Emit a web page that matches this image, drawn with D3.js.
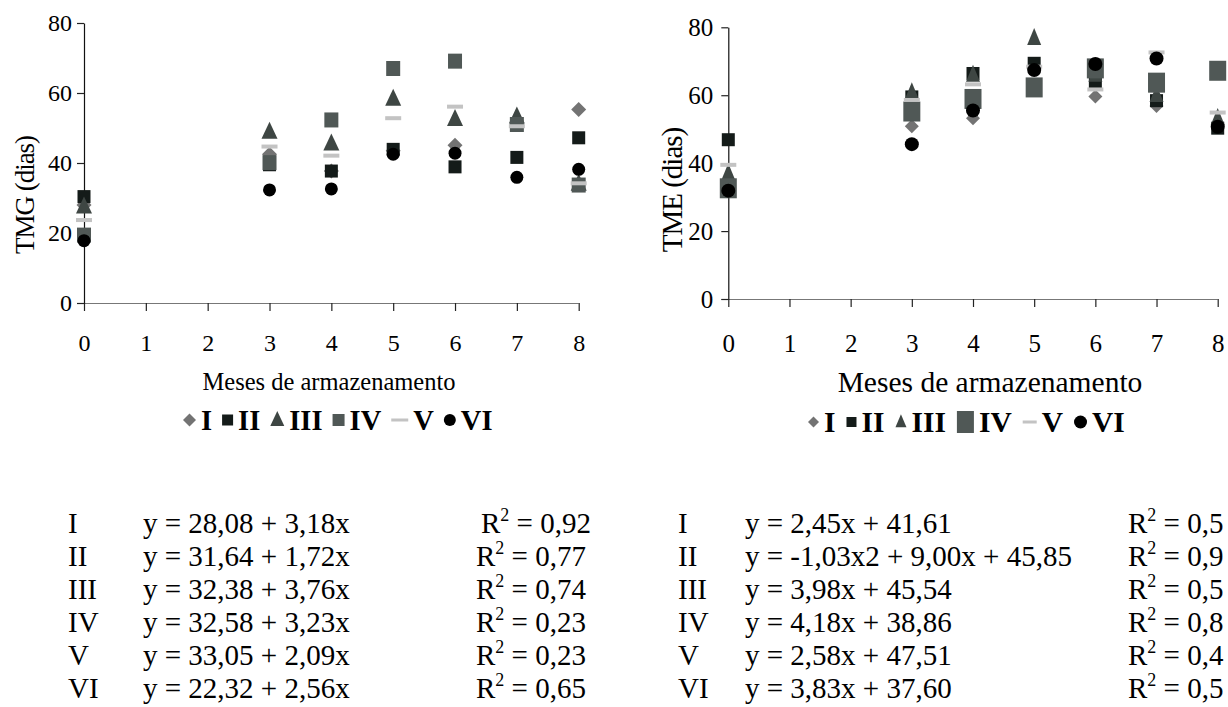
<!DOCTYPE html>
<html>
<head>
<meta charset="utf-8">
<script src="https://cdn.jsdelivr.net/npm/d3@7"></script>
<style>
  body { margin: 0; background: #fff; }
  text { font-family: "Liberation Serif", "Times New Roman", serif; fill: #000; }
</style>
</head>
<body>
<script>
// months on the x axis
const months = [0, 3, 4, 5, 6, 7, 8];
const xTicks = [0, 1, 2, 3, 4, 5, 6, 7, 8];
const yTicks = [0, 20, 40, 60, 80];
const seriesNames = ["I", "II", "III", "IV", "V", "VI"];

// TMG (dias)
const tmgI   = [28.0, 42.5, 37.7, 43.5, 45.1, 51.0, 55.3];
const tmgII  = [30.4, 39.5, 37.7, 43.9, 38.9, 41.6, 47.2];
const tmgIII = [27.5, 48.9, 45.5, 58.3, 52.5, 53.2, 34.0];
const tmgIV  = [19.4, 40.1, 52.3, 67.0, 69.1, 51.0, 33.7];
const tmgV   = [23.7, 44.7, 42.1, 52.8, 56.1, 50.5, 34.2];
const tmgVI  = [17.8, 32.3, 32.6, 42.5, 42.8, 35.9, 38.2];

// TME (dias)
const tmeI   = [33.0, 50.9, 53.2, 62.0, 59.6, 56.8, 51.0];
const tmeII  = [46.9, 59.5, 66.4, 69.4, 63.5, 58.4, 50.3];
const tmeIII = [37.0, 60.8, 66.0, 76.8, 66.0, 60.0, 53.2];
const tmeIV  = [32.6, 55.2, 58.9, 62.3, 67.9, 63.7, 67.2];
const tmeV   = [39.5, 58.6, 63.2, 68.4, 61.7, 72.6, 54.9];
const tmeVI  = [31.9, 45.6, 55.5, 67.4, 69.2, 70.8, 50.7];

// regression equations under each chart
const tmgEq = ["y = 28,08 + 3,18x", "y = 31,64 + 1,72x", "y = 32,38 + 3,76x",
               "y = 32,58 + 3,23x", "y = 33,05 + 2,09x", "y = 22,32 + 2,56x"];
const tmgR2 = ["0,92", "0,77", "0,74", "0,23", "0,23", "0,65"];
const tmeEq = ["y = 2,45x + 41,61", "y = -1,03x2 + 9,00x + 45,85", "y = 3,98x + 45,54",
               "y = 4,18x + 38,86", "y = 2,58x + 47,51", "y = 3,83x + 37,60"];
const tmeR2 = ["0,5", "0,9", "0,5", "0,8", "0,4", "0,5"];

const width = 1228, height = 707;

const svg = d3.select("body").append("svg")
  .attr("width", width)
  .attr("height", height);

svg.append("rect").attr("width", width).attr("height", height).attr("fill", "#fff");

// marker styles per series
const styles = [
  { type: "diamond",  color: "#737373" },
  { type: "square",   color: "#141b19" },
  { type: "triangle", color: "#3e4643" },
  { type: "square2",  color: "#505856" },
  { type: "dash",     color: "#c3c3c3" },
  { type: "circle",   color: "#000000" }
];

// draw one marker into g, centred at 0,0
function marker(g, st, sz) {
  const s = sz[st.type];
  if (st.type === "diamond") {
    g.append("path").attr("d", `M0,${-s}L${s},0L0,${s}L${-s},0Z`).attr("fill", st.color);
  } else if (st.type === "triangle") {
    g.append("path").attr("d", `M0,${-s[1] * 0.6}L${s[0] / 2},${s[1] * 0.4}L${-s[0] / 2},${s[1] * 0.4}Z`)
      .attr("fill", st.color);
  } else if (st.type === "circle") {
    g.append("circle").attr("r", s).attr("fill", st.color);
  } else {
    // squares and the dash
    g.append("rect").attr("x", -s[0] / 2).attr("y", -s[1] / 2)
      .attr("width", s[0]).attr("height", s[1]).attr("fill", st.color);
  }
}

function drawChart(cfg) {
  const x = d3.scaleLinear().domain([0, 8]).range([cfg.x0, cfg.x1]);
  const y = d3.scaleLinear().domain([0, 80]).range([cfg.y0, cfg.y1]);

  // axes
  const gx = svg.append("g").attr("transform", `translate(0,${cfg.y0})`)
    .call(d3.axisBottom(x).tickValues(xTicks).tickSize(8).tickSizeOuter(0).tickPadding(cfg.xPad));
  gx.select(".domain").attr("d", `M${cfg.x0 - 7},0.5H${cfg.x1}`).attr("stroke", "#777");
  const gy = svg.append("g").attr("transform", `translate(${cfg.x0},0)`)
    .call(d3.axisLeft(y).tickValues(yTicks).tickSize(7).tickSizeOuter(0).tickPadding(cfg.yPad));
  gy.select(".domain").attr("stroke", "#111");
  [gx, gy].forEach(g => {
    g.select(".domain").attr("stroke-width", 1.2);
    g.selectAll(".tick line").attr("stroke", "#222").attr("stroke-width", 1.2);
    g.selectAll(".tick text").attr("font-family", "Liberation Serif")
      .attr("font-size", cfg.tickFont).attr("fill", "#000");
  });

  // points, series drawn in order so later ones sit on top
  cfg.series.forEach((vals, i) => {
    const st = styles[i];
    vals.forEach((v, j) => {
      const g = svg.append("g").attr("transform", `translate(${x(months[j])},${y(v)})`);
      marker(g, st, cfg.sizes);
    });
  });

  // titles
  svg.append("text")
    .attr("transform", `translate(${cfg.yTitleX},${cfg.yTitleY}) rotate(-90)`)
    .attr("text-anchor", "middle").attr("dy", "0.35em")
    .attr("font-size", cfg.yTitleFont).attr("letter-spacing", -1)
    .text(cfg.yTitle);
  svg.append("text")
    .attr("x", cfg.xTitleX).attr("y", cfg.xTitleY)
    .attr("text-anchor", "middle").attr("dy", "0.35em")
    .attr("font-size", cfg.xTitleFont)
    .text("Meses de armazenamento");

  // legend laid out left to right
  let cx = cfg.legX;
  const leg = svg.append("g").attr("transform", `translate(0,${cfg.legY})`);
  seriesNames.forEach((name, i) => {
    const st = styles[i];
    const w = cfg.legSizes.w[st.type];
    const mg = leg.append("g").attr("transform", `translate(${cx + w / 2},0)`);
    marker(mg, st, cfg.legSizes);
    cx += w + 5;
    const t = leg.append("text").attr("x", cx).attr("dy", "0.35em")
      .attr("font-size", cfg.legFont).attr("font-weight", "bold").text(name);
    cx += t.node().getComputedTextLength() + cfg.legGap;
  });

  // equation table
  const tab = svg.append("g");
  cfg.eq.forEach((eq, i) => {
    const ty = cfg.tabY + i * cfg.tabStep;
    tab.append("text").attr("x", cfg.tabX[0]).attr("y", ty).attr("font-size", cfg.tabFont).text(seriesNames[i]);
    tab.append("text").attr("x", cfg.tabX[1]).attr("y", ty).attr("font-size", cfg.tabFont).text(eq);
    const r = tab.append("text").attr("x", cfg.tabX[2] + (i === 0 ? cfg.firstShift : 0))
      .attr("y", ty).attr("font-size", cfg.tabFont);
    r.append("tspan").text("R");
    r.append("tspan").attr("dy", -12).attr("font-size", cfg.tabFont * 0.62).text("2");
    r.append("tspan").attr("dy", 12).text(" = " + cfg.r2[i]);
  });
}

drawChart({
  x0: 84, x1: 578.7, y0: 303, y1: 23,
  xPad: 23, yPad: 5, tickFont: 24,
  series: [tmgI, tmgII, tmgIII, tmgIV, tmgV, tmgVI],
  sizes: { diamond: 7.5, square: [13, 13], triangle: [16, 17], square2: [14, 15], dash: [16, 4], circle: 6.5 },
  yTitle: "TMG (dias)", yTitleX: 25, yTitleY: 195, yTitleFont: 27,
  xTitleX: 329, xTitleY: 381, xTitleFont: 24.5,
  legX: 183, legY: 420, legFont: 28.5, legGap: 10,
  legSizes: { diamond: 6.5, square: [11, 11], triangle: [14, 15], square2: [12, 12], dash: [17, 3], circle: 6,
              w: { diamond: 13, square: 11, triangle: 14, square2: 12, dash: 17, circle: 12 } },
  eq: tmgEq, r2: tmgR2,
  tabX: [68, 143, 476], firstShift: 5, tabY: 533, tabStep: 33, tabFont: 29
});

drawChart({
  x0: 728.3, x1: 1217.7, y0: 299, y1: 27.3,
  xPad: 27, yPad: 8, tickFont: 25,
  series: [tmeI, tmeII, tmeIII, tmeIV, tmeV, tmeVI],
  sizes: { diamond: 7, square: [13, 13], triangle: [14, 17], square2: [17, 20], dash: [16, 4], circle: 7 },
  yTitle: "TME (dias)", yTitleX: 672, yTitleY: 190, yTitleFont: 29,
  xTitleX: 990, xTitleY: 382, xTitleFont: 29.5,
  legX: 808, legY: 422, legFont: 29.5, legGap: 11,
  legSizes: { diamond: 5.5, square: [10, 10], triangle: [11, 13], square2: [17, 22], dash: [14, 3], circle: 6.5,
              w: { diamond: 11, square: 10, triangle: 11, square2: 17, dash: 14, circle: 13 } },
  eq: tmeEq, r2: tmeR2,
  tabX: [678, 745, 1128], firstShift: 0, tabY: 533, tabStep: 33, tabFont: 29
});
</script>
</body>
</html>
